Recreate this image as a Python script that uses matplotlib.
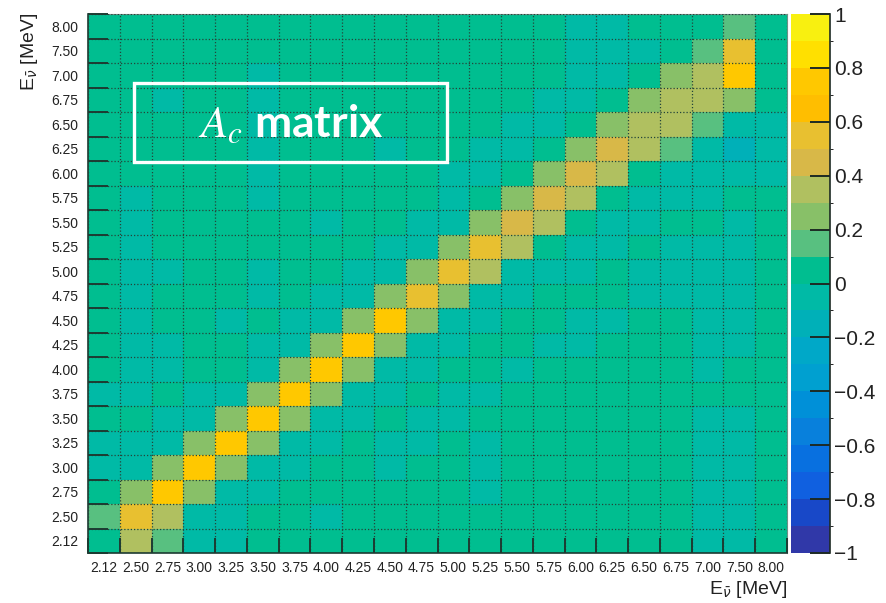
import numpy as np
import matplotlib
matplotlib.use('Agg')
import matplotlib.pyplot as plt
from matplotlib.colors import ListedColormap, BoundaryNorm
from matplotlib.patches import Rectangle

plt.rcParams['font.family'] = ['Liberation Sans', 'DejaVu Sans']
plt.rcParams['mathtext.fontset'] = 'stix'

# energy bins (same binning on both axes)
bin_labels = ['2.12', '2.50', '2.75', '3.00', '3.25', '3.50', '3.75', '4.00',
              '4.25', '4.50', '4.75', '5.00', '5.25', '5.50', '5.75', '6.00',
              '6.25', '6.50', '6.75', '7.00', '7.50', '8.00']

# matrix rows, listed from the top bin (8.00) down to the bottom bin (2.12)
rows_top_down = [
    [0.04, 0.05, 0.03, 0.04, 0.05, 0.03, 0.04, 0.05, 0.04, 0.03, 0.04, 0.05, 0.04, 0.03, 0.05, -0.03, -0.04, 0.04, 0.03, 0.05, 0.15, 0.04],
    [0.05, 0.04, 0.04, 0.03, 0.04, 0.05, 0.04, 0.03, 0.05, 0.04, 0.04, 0.03, 0.05, 0.04, 0.04, -0.04, -0.03, -0.02, 0.04, 0.16, 0.55, 0.03],
    [0.04, 0.04, 0.05, 0.04, 0.03, -0.03, 0.04, 0.05, 0.04, 0.03, 0.04, 0.05, 0.04, 0.05, 0.03, -0.03, -0.04, 0.04, 0.25, 0.36, 0.74, 0.04],
    [0.04, 0.03, -0.03, 0.04, 0.05, -0.04, 0.04, 0.03, 0.04, 0.05, 0.04, 0.04, 0.03, 0.04, -0.02, -0.03, 0.04, 0.26, 0.35, 0.31, 0.29, 0.04],
    [0.05, 0.04, 0.04, 0.03, 0.04, -0.03, 0.04, 0.05, 0.04, 0.04, 0.03, 0.04, 0.05, -0.03, -0.04, 0.04, 0.25, 0.36, 0.35, 0.16, -0.04, -0.03],
    [0.04, 0.05, 0.04, 0.04, 0.03, -0.04, 0.04, 0.04, 0.05, -0.03, 0.04, 0.04, -0.03, -0.04, 0.05, 0.26, 0.46, 0.35, 0.15, -0.04, -0.14, -0.05],
    [0.04, 0.04, 0.03, 0.05, 0.04, -0.03, 0.04, 0.05, 0.04, 0.04, 0.03, -0.02, -0.03, 0.04, 0.25, 0.47, 0.36, 0.04, -0.03, -0.04, -0.04, -0.02],
    [0.05, -0.03, 0.04, 0.04, 0.05, -0.04, 0.03, 0.04, 0.04, 0.05, 0.04, -0.03, 0.04, 0.26, 0.48, 0.35, 0.04, -0.03, -0.04, -0.03, 0.03, 0.04],
    [0.04, -0.04, 0.05, 0.03, 0.04, 0.04, 0.05, -0.03, 0.04, 0.04, -0.04, -0.03, 0.27, 0.49, 0.36, 0.04, -0.03, -0.04, 0.04, 0.03, -0.03, 0.04],
    [0.03, -0.03, 0.04, 0.05, 0.04, 0.04, 0.03, 0.04, 0.05, -0.04, -0.03, 0.27, 0.58, 0.37, 0.04, -0.03, -0.04, 0.04, -0.02, -0.03, -0.04, 0.04],
    [0.04, -0.04, -0.03, 0.04, 0.05, -0.03, 0.04, 0.04, -0.03, -0.04, 0.28, 0.56, 0.37, -0.03, -0.04, -0.03, 0.04, -0.03, -0.04, -0.03, -0.03, 0.04],
    [0.05, -0.03, 0.04, 0.04, 0.03, -0.04, 0.04, -0.03, -0.04, 0.28, 0.56, 0.28, -0.03, -0.04, 0.04, 0.05, 0.04, -0.03, -0.04, -0.03, -0.04, 0.04],
    [0.04, -0.04, 0.04, 0.05, -0.03, 0.04, -0.03, -0.04, 0.27, 0.74, 0.27, -0.04, -0.03, 0.04, 0.05, -0.03, -0.04, 0.04, 0.04, -0.03, -0.04, 0.04],
    [0.04, -0.03, -0.04, 0.04, 0.05, -0.03, -0.04, 0.28, 0.75, 0.28, -0.04, -0.03, 0.04, 0.05, -0.03, -0.03, 0.04, 0.04, 0.05, -0.04, -0.03, 0.04],
    [0.05, -0.04, -0.03, 0.04, 0.04, -0.04, 0.27, 0.75, 0.27, -0.03, -0.04, 0.04, 0.05, -0.03, 0.04, 0.04, 0.05, 0.04, 0.03, -0.03, 0.04, 0.04],
    [-0.03, -0.04, 0.04, -0.03, -0.04, 0.27, 0.76, 0.27, -0.04, -0.03, 0.04, -0.03, -0.04, 0.04, 0.05, 0.04, 0.03, 0.04, 0.05, 0.04, 0.04, 0.03],
    [0.04, 0.05, -0.03, -0.04, 0.27, 0.75, 0.27, -0.03, -0.04, 0.04, -0.03, -0.04, 0.04, 0.05, 0.04, 0.04, 0.03, 0.04, 0.05, -0.03, -0.04, 0.04],
    [-0.04, -0.03, -0.04, 0.28, 0.75, 0.28, -0.03, -0.04, 0.04, -0.03, -0.04, 0.04, -0.03, 0.04, 0.05, 0.04, 0.04, 0.03, 0.04, -0.04, -0.03, 0.04],
    [-0.03, -0.04, 0.27, 0.76, 0.27, -0.04, -0.03, 0.04, 0.05, -0.03, 0.04, 0.04, -0.04, 0.05, 0.04, 0.03, 0.04, 0.04, 0.05, -0.03, -0.04, 0.04],
    [0.04, 0.26, 0.76, 0.26, -0.04, -0.03, 0.04, 0.05, 0.04, 0.04, 0.03, 0.04, -0.03, 0.04, 0.05, 0.04, 0.04, 0.03, 0.04, -0.04, -0.03, 0.04],
    [0.15, 0.56, 0.36, -0.03, -0.04, 0.04, 0.05, -0.03, 0.04, 0.04, 0.05, 0.04, 0.03, 0.04, 0.05, 0.04, 0.04, 0.03, 0.04, -0.03, -0.04, 0.04],
    [0.04, 0.36, 0.16, -0.04, -0.03, 0.04, 0.05, 0.04, 0.04, 0.03, 0.04, 0.05, 0.04, 0.04, 0.03, 0.05, 0.04, 0.04, 0.03, -0.03, -0.04, 0.04],
]

# 20 contour levels from -1 to 1, bird-like palette
level_edges = np.linspace(-1, 1, 21)
level_colors = ['#3038a8', '#1848c8', '#1060e0', '#0870e0', '#0880dc',
                '#0090d8', '#00a0d0', '#00a8c8', '#00b0b8', '#00baa6',
                '#00be90', '#58c080', '#88c068', '#b0c060', '#d8b848',
                '#e8c030', '#ffbe00', '#ffc800', '#ffe000', '#f8f010']
cbar_ticks = [-1, -0.8, -0.6, -0.4, -0.2, 0, 0.2, 0.4, 0.6, 0.8, 1]
cbar_ticklabels = ['\u22121', '\u22120.8', '\u22120.6', '\u22120.4', '\u22120.2',
                   '0', '0.2', '0.4', '0.6', '0.8', '1']
axis_title = r'E$_{\bar{\nu}}$ [MeV]'

mat = np.array(rows_top_down)[::-1]   # row 0 = lowest energy bin
nbins = len(bin_labels)
edges = np.arange(nbins + 1)

cmap = ListedColormap(level_colors)
norm = BoundaryNorm(level_edges, cmap.N)

W, H = 886, 603
fig = plt.figure(figsize=(W / 100, H / 100), dpi=100)
ax = fig.add_axes([88 / W, 1 - 553 / H, 699 / W, 539 / H])
mesh = ax.pcolormesh(edges, edges, mat, cmap=cmap, norm=norm)

# ticks on bin edges, labels at bin centres
ax.set_xticks(edges)
ax.set_yticks(edges)
ax.set_xticklabels([])
ax.set_yticklabels([])
ax.set_xticks(edges[:-1] + 0.5, minor=True)
ax.set_yticks(edges[:-1] + 0.5, minor=True)
ax.set_xticklabels(bin_labels, minor=True, fontsize=10)
ax.set_yticklabels(bin_labels, minor=True, fontsize=10)
ax.tick_params(which='minor', length=0, colors='#222222')
ax.tick_params(which='minor', axis='x', pad=6)
ax.tick_params(which='minor', axis='y', pad=7)
ax.tick_params(which='major', axis='y', direction='in', length=14.4, width=1.4,
               color='#1d3b32', left=True, right=False)
ax.tick_params(which='major', axis='x', direction='in', length=10.8, width=1.4,
               color='#1d3b32', bottom=True, top=False)
ax.set_xlim(0, nbins)
ax.set_ylim(0, nbins)
ax.set_axisbelow(False)
ax.grid(which='major', color='#24453a', linestyle=(0, (1, 1.6)), linewidth=0.9)

for side in ['left', 'bottom']:
    ax.spines[side].set_color('#1d3b32')
    ax.spines[side].set_linewidth(1.2)
for side in ['top', 'right']:
    ax.spines[side].set_color('#6f8f86')
    ax.spines[side].set_linewidth(0.8)

# axis titles
fig.text(787 / W, 1 - 590 / H, axis_title, ha='right', va='center',
         fontsize=14, color='#222222', math_fontfamily='dejavusans')
fig.text(30 / W, 1 - 13 / H, axis_title, ha='center', va='top',
         rotation=90, fontsize=14, color='#222222', math_fontfamily='dejavusans')

# label box
ax.add_patch(Rectangle((0.066, 0.725), 0.448, 0.147, transform=ax.transAxes,
                       fill=False, edgecolor='white', linewidth=2.4, zorder=5))
ax.text(0.290, 0.797, r'$A_c$ matrix', transform=ax.transAxes, ha='center',
        va='center', color='white', fontsize=32, fontweight='bold',
        family=['Lato', 'DejaVu Sans'], zorder=6)

# colour scale
cax = fig.add_axes([791 / W, 1 - 553 / H, 39 / W, 539 / H])
cb = fig.colorbar(mesh, cax=cax, ticks=cbar_ticks)
cb.outline.set_visible(False)
cax.set_yticklabels(cbar_ticklabels, fontsize=15, color='#222222')
cax.tick_params(direction='in', length=14.4, width=1.4, color='#1d2a24', pad=3,
                right=True, left=False)
cax.plot([1, 1], [0, 1], transform=cax.transAxes, color='#1d2a24',
         linewidth=1.2, clip_on=False)

fig.savefig('out.png', dpi=100)
